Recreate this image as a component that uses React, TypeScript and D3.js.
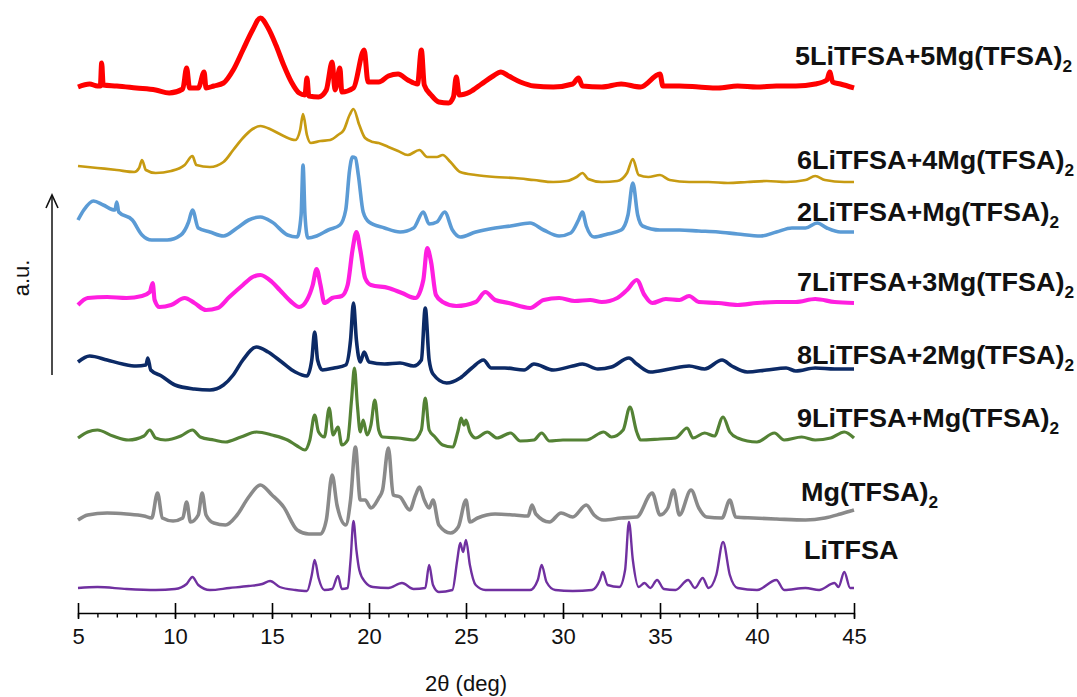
import * as d3 from 'd3';
import React, { useEffect, useRef } from 'react';

/* XRD patterns, stacked, LiTFSA / Mg(TFSA)2 mixtures
 * each series is a list of [2theta, intensity (a.u., offset included)]
 */

const W = 1077;
const H = 697;
const FONT = '"Liberation Sans", Arial, Helvetica, sans-serif';

const xDomain: [number, number] = [5, 45];
const yDomain: [number, number] = [0, 600];
const majorTicks = [5, 10, 15, 20, 25, 30, 35, 40, 45];
const minorTicks = d3.range(5, 46, 1);

const li5mg5: [number, number][] = [
  [5.0, 524], [5.6, 527], [6.0, 525], [6.15, 525], [6.22, 548], [6.3, 526], [7.0, 525], [8.0, 523],
  [9.0, 521], [9.7, 518], [10.4, 522], [10.6, 543], [10.75, 523], [11.2, 523], [11.5, 539], [11.6, 523],
  [12.0, 525], [12.5, 528], [13.0, 541], [13.5, 561], [14.0, 581], [14.4, 593], [14.8, 583], [15.2, 566],
  [15.6, 546], [16.0, 529], [16.4, 518], [16.7, 516], [16.8, 533], [16.9, 515], [17.4, 514], [17.8, 521],
  [18.1, 549], [18.25, 521], [18.5, 543], [18.6, 519], [19.2, 523], [19.75, 561], [19.95, 529], [20.5, 529],
  [21.0, 535], [21.5, 537], [22.0, 531], [22.5, 527], [22.7, 561], [22.85, 526], [23.2, 516], [23.6, 509],
  [24.1, 508], [24.35, 514], [24.5, 534], [24.65, 516], [25.2, 519], [25.8, 527], [26.4, 535], [26.8, 539],
  [27.2, 535], [27.8, 529], [28.5, 525], [29.5, 524], [30.5, 527], [30.8, 533], [31.0, 525], [32.0, 524],
  [33.0, 527], [34.0, 524], [35.0, 537], [35.15, 525], [36.0, 525], [37.0, 524], [38.0, 523], [39.0, 525],
  [40.0, 524], [41.0, 525], [42.0, 525], [43.0, 527], [43.6, 531], [43.75, 539], [43.9, 529], [44.3, 527],
  [45.0, 523],
];

const li6mg4: [number, number][] = [
  [5.0, 445], [6.0, 443], [7.0, 441], [7.9, 439], [8.15, 443], [8.3, 451], [8.5, 441], [9.0, 438],
  [9.8, 440], [10.5, 446], [10.9, 455], [11.1, 446], [11.8, 444], [12.5, 449], [13.0, 461], [13.5, 473],
  [14.0, 482], [14.4, 485], [15.0, 481], [15.6, 475], [16.2, 471], [16.45, 481], [16.6, 497], [16.8, 476],
  [17.0, 468], [17.5, 470], [18.0, 471], [18.4, 476], [18.7, 481], [19.0, 496], [19.2, 502], [19.5, 486],
  [19.8, 473], [20.2, 469], [20.5, 468], [21.0, 464], [21.5, 460], [22.0, 456], [22.6, 461], [23.0, 454],
  [23.5, 454], [23.8, 456], [24.2, 449], [24.7, 439], [25.5, 436], [26.5, 434], [27.5, 433], [28.5, 431],
  [29.5, 429], [30.2, 430], [30.7, 434], [31.0, 438], [31.3, 432], [32.0, 429], [32.8, 430], [33.3, 438],
  [33.6, 452], [33.9, 436], [34.4, 434], [35.0, 436], [35.5, 431], [36.5, 429], [37.5, 429], [38.5, 428],
  [39.5, 429], [40.5, 430], [41.5, 429], [42.5, 431], [43.0, 435], [43.5, 431], [44.5, 429], [45.0, 429],
];

const li2mg1: [number, number][] = [
  [5.0, 391], [5.3, 401], [5.8, 410], [6.3, 406], [6.9, 401], [7.0, 409], [7.1, 399], [7.8, 391],
  [8.3, 376], [8.8, 371], [9.6, 371], [10.3, 376], [10.7, 389], [10.9, 401], [11.2, 383], [11.8, 379],
  [12.5, 375], [13.2, 383], [13.8, 391], [14.4, 394], [15.0, 389], [15.8, 376], [16.3, 374], [16.5, 396],
  [16.6, 446], [16.7, 396], [16.85, 373], [17.3, 375], [17.9, 381], [18.5, 386], [18.8, 401], [19.0, 441],
  [19.15, 454], [19.3, 453], [19.45, 436], [19.7, 399], [20.0, 389], [20.8, 383], [21.6, 379], [22.3, 383],
  [22.8, 399], [23.1, 387], [23.5, 389], [23.9, 399], [24.3, 381], [24.7, 374], [25.5, 379], [26.5, 383],
  [27.3, 385], [28.3, 388], [29.0, 381], [29.8, 375], [30.4, 378], [30.8, 391], [31.0, 399], [31.2, 385],
  [31.6, 374], [32.3, 377], [33.0, 381], [33.35, 396], [33.6, 428], [33.85, 396], [34.1, 385], [35.0, 381],
  [36.0, 381], [37.0, 380], [38.0, 379], [39.0, 377], [40.2, 375], [41.0, 379], [41.8, 383], [42.5, 383],
  [43.1, 388], [43.6, 383], [44.3, 379], [45.0, 379],
];

const li7mg3: [number, number][] = [
  [5.0, 306], [5.5, 313], [6.5, 314], [7.5, 313], [8.3, 315], [8.7, 319], [8.85, 328], [8.95, 311],
  [9.2, 304], [9.8, 306], [10.5, 313], [11.0, 308], [11.6, 301], [12.2, 303], [12.8, 314], [13.5, 326],
  [14.0, 334], [14.4, 336], [15.0, 329], [15.4, 321], [16.0, 309], [16.4, 304], [16.8, 311], [17.1, 326],
  [17.3, 342], [17.5, 326], [17.7, 308], [18.1, 313], [18.6, 315], [18.9, 326], [19.15, 361], [19.35, 379],
  [19.55, 361], [19.8, 333], [20.1, 326], [21.0, 323], [21.7, 318], [22.4, 313], [22.8, 331], [23.0, 363],
  [23.2, 349], [23.45, 316], [23.8, 309], [24.5, 305], [25.5, 309], [26.0, 319], [26.5, 311], [27.2, 308],
  [28.3, 303], [29.0, 311], [29.8, 313], [30.6, 310], [31.4, 311], [32.0, 309], [32.8, 313], [33.3, 321],
  [33.8, 331], [34.2, 316], [34.6, 308], [35.3, 312], [36.0, 311], [36.5, 315], [37.0, 309], [38.0, 308],
  [39.0, 306], [40.0, 308], [41.0, 309], [42.0, 309], [43.0, 312], [44.0, 309], [45.0, 308],
];

const li8mg2: [number, number][] = [
  [5.0, 249], [5.6, 255], [6.5, 251], [7.3, 247], [8.0, 245], [8.5, 246], [8.6, 253], [8.75, 241],
  [9.3, 235], [10.0, 226], [11.0, 222], [11.8, 221], [12.5, 226], [13.0, 236], [13.5, 251], [14.2, 264],
  [14.8, 259], [15.5, 249], [16.2, 239], [16.8, 235], [17.05, 251], [17.2, 279], [17.35, 251], [17.6, 241],
  [18.2, 243], [18.8, 246], [19.05, 271], [19.2, 308], [19.35, 271], [19.55, 249], [19.75, 259], [20.0, 249],
  [20.8, 247], [21.6, 248], [22.3, 245], [22.7, 251], [22.9, 303], [23.1, 251], [23.3, 237], [24.0, 228],
  [24.7, 233], [25.3, 243], [25.9, 251], [26.3, 243], [27.0, 243], [28.0, 241], [28.5, 247], [29.5, 241],
  [30.5, 245], [31.0, 247], [31.8, 242], [32.5, 244], [33.4, 253], [33.8, 247], [34.5, 239], [35.5, 242],
  [36.5, 245], [37.3, 242], [38.2, 251], [38.7, 245], [39.5, 239], [40.5, 241], [41.5, 243], [42.0, 240],
  [43.0, 243], [44.0, 242], [45.0, 242],
];

const li9mg1: [number, number][] = [
  [5.0, 173], [5.5, 179], [6.0, 181], [6.8, 175], [7.6, 171], [8.4, 175], [8.7, 181], [9.0, 173],
  [9.5, 171], [10.3, 175], [10.9, 181], [11.3, 174], [12.0, 171], [12.6, 169], [13.4, 174], [14.2, 179],
  [15.0, 176], [15.8, 171], [16.3, 165], [16.7, 161], [16.95, 171], [17.2, 196], [17.4, 179], [17.7, 174],
  [17.95, 203], [18.15, 176], [18.4, 184], [18.6, 166], [18.9, 171], [19.1, 211], [19.25, 243], [19.4, 206],
  [19.55, 179], [19.7, 191], [19.9, 176], [20.1, 186], [20.3, 211], [20.5, 181], [20.7, 174], [21.5, 173],
  [22.3, 171], [22.7, 181], [22.9, 213], [23.1, 181], [23.4, 174], [23.8, 166], [24.3, 164], [24.6, 181],
  [24.75, 193], [24.9, 186], [25.0, 191], [25.2, 179], [25.5, 173], [26.1, 179], [26.6, 173], [27.3, 178],
  [27.8, 170], [28.5, 171], [28.9, 178], [29.3, 170], [30.0, 171], [31.2, 171], [32.1, 179], [32.5, 174],
  [33.1, 181], [33.45, 204], [33.8, 179], [34.0, 171], [35.0, 172], [35.8, 173], [36.4, 183], [36.7, 173],
  [37.3, 178], [37.8, 175], [38.25, 194], [38.6, 179], [39.0, 173], [40.0, 169], [40.9, 178], [41.4, 171],
  [42.3, 174], [43.0, 171], [43.8, 173], [44.5, 179], [45.0, 173],
];

const mgTfsa: [number, number][] = [
  [5.0, 91], [5.5, 96], [6.5, 98], [7.5, 97], [8.4, 95], [8.8, 93], [9.1, 118], [9.35, 93],
  [9.9, 90], [10.4, 93], [10.6, 109], [10.8, 89], [11.2, 96], [11.4, 118], [11.6, 96], [12.0, 88],
  [12.6, 86], [13.2, 96], [13.8, 114], [14.4, 126], [15.0, 116], [15.6, 104], [16.3, 81], [16.9, 77],
  [17.5, 77], [17.8, 91], [18.1, 136], [18.35, 106], [18.8, 86], [19.05, 111], [19.3, 164], [19.55, 111],
  [19.8, 111], [20.1, 103], [20.5, 113], [20.7, 121], [21.0, 163], [21.25, 116], [21.6, 114], [22.1, 101],
  [22.4, 116], [22.6, 124], [22.85, 111], [23.1, 103], [23.3, 111], [23.6, 86], [24.2, 78], [24.6, 84],
  [25.0, 111], [25.2, 89], [25.6, 93], [26.5, 97], [27.5, 96], [28.2, 95], [28.4, 106], [28.6, 97],
  [29.3, 89], [29.9, 98], [30.5, 94], [31.2, 106], [31.6, 96], [32.1, 91], [33.0, 93], [33.8, 94],
  [34.6, 118], [35.0, 96], [35.4, 103], [35.7, 121], [36.0, 96], [36.6, 121], [37.0, 103], [37.4, 94],
  [38.2, 93], [38.6, 111], [38.9, 94], [39.8, 93], [41.0, 92], [42.5, 91], [43.5, 93], [44.3, 97],
  [45.0, 101],
];

const liTfsa: [number, number][] = [
  [5.0, 23], [6.0, 24], [7.5, 22], [9.0, 21], [10.0, 22], [10.6, 27], [10.9, 34], [11.2, 26],
  [11.8, 21], [12.8, 23], [13.8, 25], [14.5, 27], [14.9, 30], [15.4, 24], [16.2, 21], [16.8, 20],
  [17.05, 36], [17.2, 51], [17.4, 33], [17.7, 21], [18.1, 22], [18.4, 35], [18.6, 22], [18.9, 23],
  [19.05, 51], [19.2, 90], [19.35, 61], [19.5, 41], [19.8, 29], [20.2, 24], [21.0, 23], [21.7, 28],
  [22.3, 22], [22.9, 23], [23.1, 46], [23.3, 26], [23.6, 19], [24.3, 21], [24.55, 51], [24.7, 68],
  [24.85, 59], [25.0, 71], [25.2, 46], [25.5, 26], [26.0, 21], [27.0, 21], [28.3, 21], [28.7, 31],
  [28.9, 46], [29.15, 29], [29.6, 21], [30.5, 20], [31.5, 21], [31.9, 31], [32.05, 39], [32.3, 26],
  [32.9, 24], [33.2, 41], [33.4, 89], [33.6, 51], [33.9, 24], [34.2, 28], [34.5, 23], [34.85, 31],
  [35.2, 22], [35.8, 21], [36.45, 31], [36.8, 23], [37.2, 33], [37.5, 23], [37.9, 36], [38.25, 69],
  [38.6, 36], [39.0, 23], [40.0, 21], [41.0, 31], [41.4, 21], [42.5, 23], [43.2, 21], [44.0, 28],
  [44.2, 24], [44.5, 39], [44.8, 23], [45.0, 23],
];

// label = [main text, subscript]; sw ~ thickness of the noisy trace
const seriesList = [
  { key: 'li5mg5', label: ['5LiTFSA+5Mg(TFSA)', '2'], color: '#ff0000', sw: 5, data: li5mg5, lx: 795, ly: 65 },
  { key: 'li6mg4', label: ['6LiTFSA+4Mg(TFSA)', '2'], color: '#c79b12', sw: 2.7, data: li6mg4, lx: 797, ly: 169 },
  { key: 'li2mg1', label: ['2LiTFSA+Mg(TFSA)', '2'], color: '#5b9bd5', sw: 3.6, data: li2mg1, lx: 797, ly: 221 },
  { key: 'li7mg3', label: ['7LiTFSA+3Mg(TFSA)', '2'], color: '#ff1ee0', sw: 4.2, data: li7mg3, lx: 797, ly: 291 },
  { key: 'li8mg2', label: ['8LiTFSA+2Mg(TFSA)', '2'], color: '#0c2a66', sw: 3.6, data: li8mg2, lx: 797, ly: 364 },
  { key: 'li9mg1', label: ['9LiTFSA+Mg(TFSA)', '2'], color: '#548235', sw: 3.2, data: li9mg1, lx: 797, ly: 427 },
  { key: 'mg', label: ['Mg(TFSA)', '2'], color: '#8a8a8a', sw: 3.6, data: mgTfsa, lx: 801, ly: 501 },
  { key: 'li', label: ['LiTFSA', ''], color: '#7030a0', sw: 2.4, data: liTfsa, lx: 804, ly: 559 },
];

const x = d3.scaleLinear().domain(xDomain).range([78, 854]);
const y = d3.scaleLinear().domain(yDomain).range([611, 11]);
const AXIS_Y = 613;

export default function App() {
  const axisRef = useRef<SVGGElement>(null);

  useEffect(() => {
    const g = d3.select(axisRef.current);
    g.selectAll('*').remove();

    const minor = g.append('g').call(
      d3.axisBottom(x).tickValues(minorTicks).tickSize(4.5).tickSizeOuter(0).tickFormat(() => '')
    );
    minor.select('.domain').remove();
    minor.selectAll('line').attr('stroke', '#000').attr('stroke-width', 1.4);

    const major = g.append('g').call(
      d3.axisBottom(x).tickValues(majorTicks).tickSize(6).tickSizeOuter(0).tickFormat(d3.format('d'))
    );
    major.select('.domain').attr('stroke', '#000').attr('stroke-width', 1.6);
    major.selectAll('.tick line').attr('y1', -10).attr('y2', 6).attr('stroke', '#000').attr('stroke-width', 1.6);
    major.selectAll('.tick text')
      .attr('y', 31).attr('dy', 0)
      .attr('font-family', FONT).attr('font-size', 22).attr('fill', '#111');
  }, []);

  const line = d3.line<[number, number]>()
    .x(d => x(d[0]))
    .y(d => y(d[1]))
    .curve(d3.curveMonotoneX);

  return (
    <svg width={W} height={H} style={{ position: 'absolute', left: 0, top: 0, background: '#fff' }}>
      <g>
        {seriesList.map(s => (
          <path key={s.key} d={line(s.data) || ''} fill="none" stroke={s.color}
            strokeWidth={s.sw} strokeLinejoin="round" strokeLinecap="butt" />
        ))}
      </g>
      <g>
        {seriesList.map(s => (
          <text key={s.key} transform={`translate(${s.lx},${s.ly}) scale(1.08,1)`}
            fontFamily={FONT} fontWeight="bold" fontSize={25} fill="#111">
            {s.label[0]}
            {s.label[1] ? <tspan fontSize={16} dy={7}>{s.label[1]}</tspan> : null}
          </text>
        ))}
      </g>
      <g ref={axisRef} transform={`translate(0,${AXIS_Y})`} />
      <text x={466} y={691} textAnchor="middle" fontFamily={FONT} fontSize={22} fill="#111">2θ (deg)</text>
      <line x1={52} x2={52} y1={375} y2={196} stroke="#111" strokeWidth={1.5} />
      <path d="M46,208 L52,195 L58,208" fill="none" stroke="#111" strokeWidth={1.6} />
      <text transform="translate(29,278) rotate(-90)" textAnchor="middle" fontFamily={FONT} fontSize={22} fill="#111">a.u.</text>
    </svg>
  );
}
